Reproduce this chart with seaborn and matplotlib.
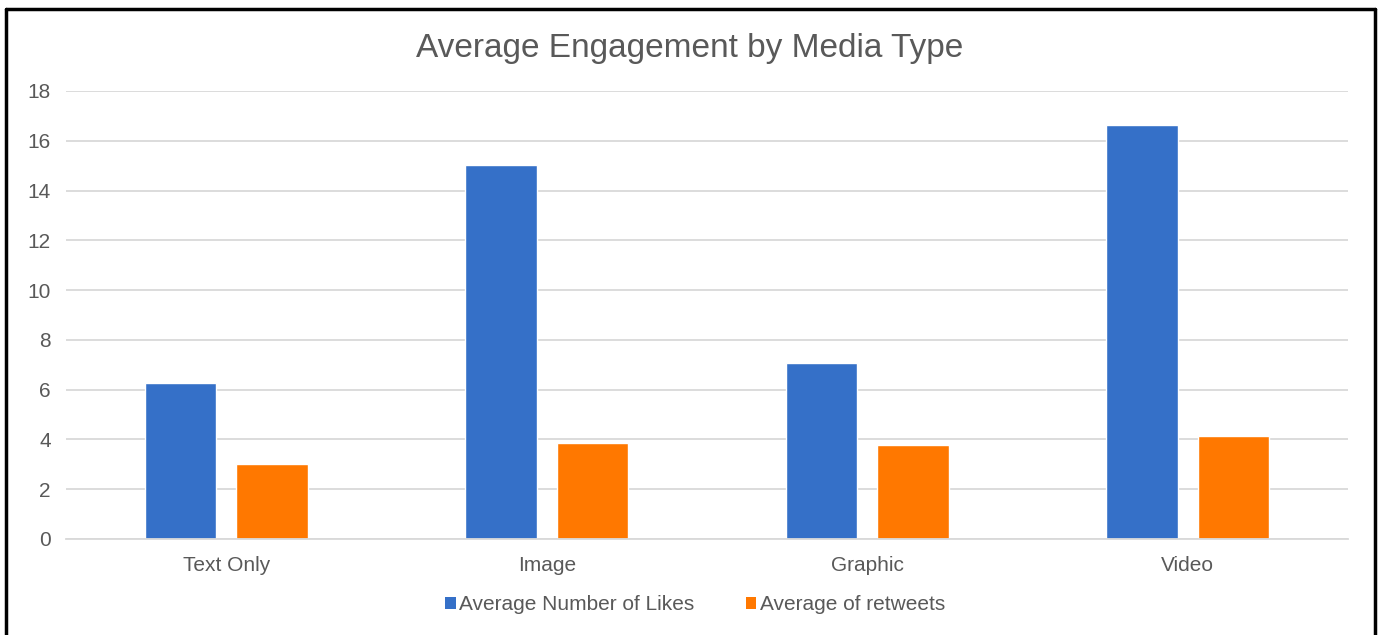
import matplotlib
matplotlib.use("Agg")
import matplotlib.pyplot as plt
import seaborn as sns
import pandas as pd
from matplotlib.lines import Line2D
from matplotlib.patches import Patch

categories = ["Text Only", "Image", "Graphic", "Video"]
likes = [6.27, 15.03, 7.07, 16.65]
retweets = [3.02, 3.86, 3.76, 4.12]
series_names = ["Average Number of Likes", "Average of retweets"]
yticks = [0, 2, 4, 6, 8, 10, 12, 14, 16, 18]

df = pd.DataFrame({
    "category": categories * 2,
    "value": likes + retweets,
    "series": [series_names[0]] * len(categories) + [series_names[1]] * len(categories),
})

sns.set_theme(style="white")
plt.rcParams['font.family'] = ['Liberation Sans', 'DejaVu Sans']

text_color = "#595959"
colors = ["#3570C8", "#FF7800"]

fig = plt.figure(figsize=(13.8, 6.35), dpi=100)
ax = fig.add_axes([66 / 1380, 96 / 635, 1282 / 1380, 448 / 635])

sns.barplot(data=df, x="category", y="value", hue="series", order=categories,
            hue_order=series_names, palette=colors, width=0.57, gap=0.22,
            saturation=1, ax=ax, legend=False)

ax.set_ylim(0, 18)
ax.set_xlim(-0.5, 3.5)
ax.set_yticks(yticks)
ax.set_yticklabels([str(t) for t in yticks])
ax.yaxis.grid(True, color="#D9D9D9", linewidth=1.3)
ax.set_axisbelow(True)
for s in ax.spines.values():
    s.set_visible(False)
ax.spines["bottom"].set_visible(True)
ax.spines["bottom"].set_color("#D9D9D9")
ax.spines["bottom"].set_linewidth(1.3)
ax.tick_params(axis="both", length=0, labelsize=15, colors=text_color)
ax.tick_params(axis="y", pad=11)
ax.tick_params(axis="x", pad=12)
ax.set_xlabel("")
ax.set_ylabel("")

fig.text(690 / 1380, 1 - 49 / 635, "Average Engagement by Media Type", ha="center", va="center",
         fontsize=24, color=text_color)

handles = [Patch(facecolor=c, edgecolor="none") for c in colors]
fig.legend(handles, series_names, loc="center", bbox_to_anchor=(695 / 1380, 1 - 605 / 635),
           ncol=2, frameon=False, fontsize=15, labelcolor=text_color,
           handlelength=0.5, handleheight=0.5, handletextpad=0.15, columnspacing=2.5)

# outer border (left, top, right)
fig.add_artist(Line2D([6 / 1380, 6 / 1380], [0, 1 - 9 / 635], transform=fig.transFigure,
                      color="black", linewidth=2.5))
fig.add_artist(Line2D([6 / 1380, 1375 / 1380], [1 - 9 / 635, 1 - 9 / 635], transform=fig.transFigure,
                      color="black", linewidth=2.5))
fig.add_artist(Line2D([1375 / 1380, 1375 / 1380], [0, 1 - 9 / 635], transform=fig.transFigure,
                      color="black", linewidth=2.5))

fig.savefig("out.png", dpi=100, facecolor="white")
